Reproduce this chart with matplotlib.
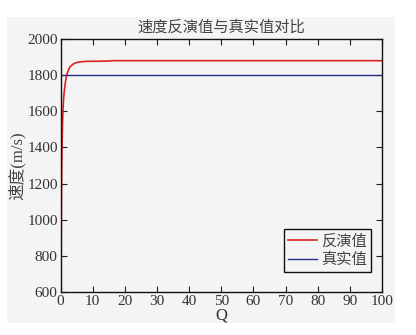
import matplotlib
matplotlib.use("Agg")
import matplotlib.pyplot as plt
from matplotlib.patches import Rectangle

q = [0.2, 0.25, 0.35, 0.5, 0.65, 0.8, 1.0, 1.3, 1.6, 2.0, 2.5, 3.0, 4.0, 5.0, 6.0, 7.0, 8.0, 10.0, 12.0, 14.0, 15.0, 16.0, 20, 30, 40, 50, 60, 70, 80, 90, 100]
inverted = [690, 1000, 1240, 1420, 1540, 1620, 1680, 1730, 1770, 1805, 1830, 1847, 1862, 1870, 1873, 1875, 1876, 1877, 1877, 1878, 1878, 1880, 1880, 1880, 1880, 1880, 1880, 1880, 1880, 1880, 1880]
true_q = [0, 100]
true_v = [1800, 1800]

xticks = list(range(0, 101, 10))
yticks = list(range(600, 2001, 200))

title = "速度反演值与真实值对比"
xlabel = "Q"
ylabel = "速度(m/s)"
labels = ["反演值", "真实值"]

serif = ["Liberation Serif", "DejaVu Serif"]
cjk = ["Noto Sans CJK SC", "Liberation Serif"]
mixed = ["Liberation Serif", "Noto Sans CJK SC"]

W, H = 416, 335
fig = plt.figure(figsize=(W / 100, H / 100), dpi=100, facecolor="white")
bg = "#f4f4f4"
fig.patches.append(Rectangle((7 / W, 1 - 323 / H), (395 - 7) / W, (323 - 17) / H,
                             transform=fig.transFigure, facecolor=bg, edgecolor="none", zorder=-10))

ax = fig.add_axes([60.5 / W, 1 - 292 / H, (382 - 60.5) / W, (292 - 39) / H])
ax.set_facecolor(bg)

ax.plot(q, inverted, color="#dd2222", lw=1.2, label=labels[0])
ax.plot(true_q, true_v, color="#2a2a8a", lw=1.0, label=labels[1])

ax.set_xlim(0, 100)
ax.set_ylim(600, 2000)
ax.set_xticks(xticks)
ax.set_yticks(yticks)
ax.tick_params(direction="in", top=True, right=True, length=4, width=0.8, pad=2, colors="#222222")
for lab in ax.get_xticklabels() + ax.get_yticklabels():
    lab.set_family(serif)
    lab.set_fontsize(11)
    lab.set_color("#333333")
for s in ax.spines.values():
    s.set_linewidth(1.0)
    s.set_color("#111111")

ax.set_title(title, family=cjk, fontsize=11, color="#444444", pad=5)
ax.set_xlabel(xlabel, family=serif, fontsize=12, labelpad=0, color="#333333")
ax.set_ylabel(ylabel, family=mixed, fontsize=12, labelpad=1, color="#444444")

leg = ax.legend(loc="lower right", bbox_to_anchor=(0.965, 0.08), prop={"family": cjk, "size": 11},
                frameon=True, fancybox=False, handlelength=1.9, handletextpad=0.3,
                borderpad=0.25, labelspacing=0.1, borderaxespad=0)
leg.get_frame().set_edgecolor("#111111")
leg.get_frame().set_linewidth(1.0)
leg.get_frame().set_facecolor(bg)
leg.get_frame().set_alpha(1)
for t in leg.get_texts():
    t.set_color("#444444")

fig.savefig("out.png", dpi=100, facecolor="white")
